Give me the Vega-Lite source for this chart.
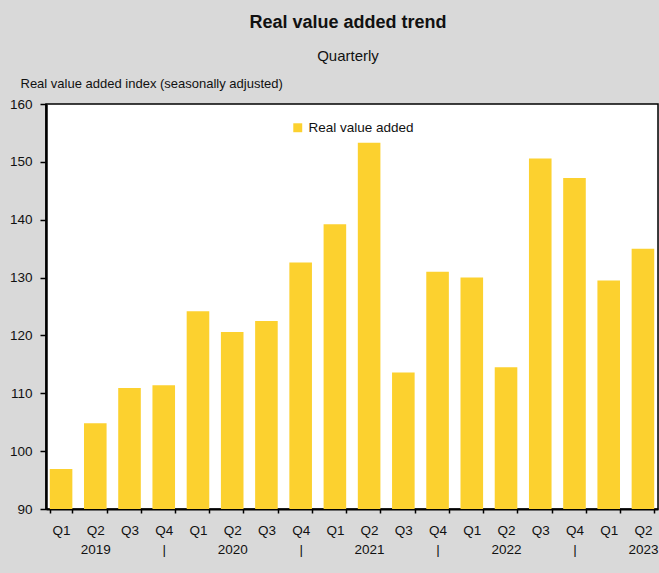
{
  "$schema": "https://vega.github.io/schema/vega-lite/v6.json",
  "autosize": "none",
  "width": 612,
  "height": 405,
  "padding": {"left": 46, "top": 104, "right": 1, "bottom": 64},
  "background": "#D9D9D9",
  "config": {
    "font": "Liberation Sans",
    "view": {"fill": "white", "stroke": "black", "strokeWidth": 1.5},
    "axis": {"labelColor": "#111", "titleColor": "#111", "domainColor": "black", "tickColor": "black", "labelFont": "Liberation Sans", "titleFont": "Liberation Sans"}
  },
  "title": {
    "text": "Real value added trend",
    "subtitle": "Quarterly",
    "anchor": "middle",
    "frame": "group",
    "dx": -4,
    "font": "Liberation Sans",
    "fontSize": 18,
    "fontWeight": "bold",
    "color": "#111",
    "subtitleFont": "Liberation Sans",
    "subtitleFontSize": 15,
    "subtitleColor": "#111",
    "subtitlePadding": 17,
    "offset": 13
  },
  "data": {
    "values": [
      {"period": "2019 Q1", "value": 96.9},
      {"period": "2019 Q2", "value": 104.8},
      {"period": "2019 Q3", "value": 110.9},
      {"period": "2019 Q4", "value": 111.4},
      {"period": "2020 Q1", "value": 124.2},
      {"period": "2020 Q2", "value": 120.6},
      {"period": "2020 Q3", "value": 122.5},
      {"period": "2020 Q4", "value": 132.6},
      {"period": "2021 Q1", "value": 139.2},
      {"period": "2021 Q2", "value": 153.3},
      {"period": "2021 Q3", "value": 113.6},
      {"period": "2021 Q4", "value": 131.0},
      {"period": "2022 Q1", "value": 130.0},
      {"period": "2022 Q2", "value": 114.5},
      {"period": "2022 Q3", "value": 150.6},
      {"period": "2022 Q4", "value": 147.2},
      {"period": "2023 Q1", "value": 129.5},
      {"period": "2023 Q2", "value": 135.0}
    ]
  },
  "mark": {"type": "bar"},
  "encoding": {
    "x": {
      "field": "period",
      "type": "nominal",
      "sort": null,
      "scale": {"paddingInner": 0.34, "paddingOuter": 0.11},
      "axis": {
        "title": null,
        "labelAngle": 0,
        "labelFontSize": 13.5,
        "labelLineHeight": 19,
        "labelPadding": 10,
        "tickBand": "extent",
        "tickSize": 4,
        "tickWidth": 1.5,
        "domainWidth": 2,
        "labelExpr": "isString(datum.value) ? [substring(datum.value, 5, 7), substring(datum.value, 5, 7) == 'Q2' ? substring(datum.value, 0, 4) : (substring(datum.value, 5, 7) == 'Q4' ? '|' : ' ')] : ''"
      }
    },
    "y": {
      "field": "value",
      "type": "quantitative",
      "scale": {"domain": [90, 160], "zero": false, "nice": false},
      "axis": {
        "title": "Real value added index (seasonally adjusted)",
        "titleAngle": 0,
        "titleAlign": "left",
        "titleBaseline": "alphabetic",
        "titleX": -26,
        "titleY": -17,
        "titleFontSize": 13,
        "titleFontWeight": "normal",
        "values": [90, 100, 110, 120, 130, 140, 150, 160],
        "labelFontSize": 13.5,
        "labelPadding": 8,
        "tickSize": 6,
        "tickWidth": 1.5,
        "domainWidth": 2.5,
        "grid": false
      }
    },
    "y2": {"datum": 90},
    "color": {
      "datum": "Real value added",
      "type": "nominal",
      "scale": {"range": ["#FCD12F"]},
      "legend": {
        "title": null,
        "orient": "none",
        "legendX": 245,
        "legendY": 17,
        "symbolType": "square",
        "symbolSize": 80,
        "symbolStrokeWidth": 0,
        "labelFontSize": 13.5,
        "labelColor": "#111",
        "labelFont": "Liberation Sans"
      }
    }
  }
}
